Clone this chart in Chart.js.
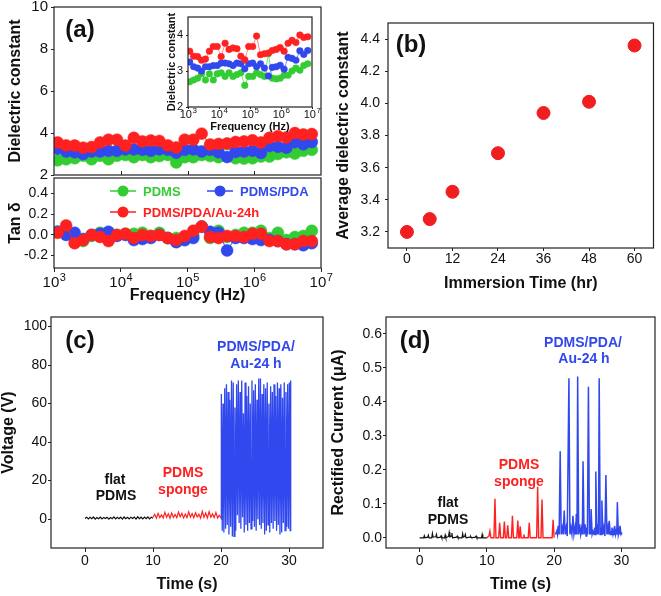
<!DOCTYPE html>
<html>
<head>
<meta charset="utf-8">
<script src="https://cdn.jsdelivr.net/npm/chart.js@4.4.1/dist/chart.umd.min.js"></script>
<style>
  html, body { margin: 0; padding: 0; background: #fff; }
  #fig { position: relative; width: 661px; height: 596px; background: #fff; }
  #fig canvas { position: absolute; left: 0; top: 0; }
</style>
</head>
<body>
<div id="fig">
  <canvas id="aTop" width="661" height="596"></canvas>
  <canvas id="aInset" width="661" height="596"></canvas>
  <canvas id="aTan" width="661" height="596"></canvas>
  <canvas id="bAvg" width="661" height="596"></canvas>
  <canvas id="cVolt" width="661" height="596"></canvas>
  <canvas id="dCurr" width="661" height="596"></canvas>
</div>
<script>
/* ---- Data: (a) dielectric spectra ---- */
const freq = [1.135e3, 1.52e3, 2.04e3, 2.73e3, 3.66e3, 4.9e3, 6.55e3, 8.77e3, 1.175e4, 1.57e4,
  2.11e4, 2.82e4, 3.79e4, 5.07e4, 6.79e4, 9.08e4, 1.22e5, 1.63e5, 2.18e5, 2.92e5,
  3.92e5, 5.25e5, 7.03e5, 9.41e5, 1.26e6, 1.69e6, 2.26e6, 3.03e6, 4.06e6, 5.43e6, 7.28e6];
const epsPDMS = [2.70, 2.75, 2.80, 2.92, 2.75, 2.92, 2.75, 2.92, 2.95, 2.85,
  2.95, 2.85, 2.90, 2.95, 2.60, 2.85, 2.85, 2.95, 2.90, 2.85,
  3.48, 2.80, 2.78, 2.80, 2.88, 2.88, 3.00, 3.08, 3.02, 3.15, 3.20];
const epsPDA = [3.25, 3.12, 3.08, 3.00, 3.12, 3.12, 3.15, 3.15, 3.22, 3.22,
  3.20, 3.15, 3.22, 3.20, 3.06, 3.20, 3.22, 3.12, 3.20, 3.08,
  2.86, 3.10, 3.12, 3.16, 3.05, 3.38, 3.35, 3.30, 3.56, 3.46, 3.57];
const epsAu = [3.55, 3.41, 3.40, 3.30, 3.33, 3.55, 3.68, 3.68, 3.40, 3.77,
  3.60, 3.64, 3.62, 3.41, 3.31, 3.68, 3.68, 3.97, 3.45, 3.48,
  3.50, 3.57, 3.60, 3.65, 3.55, 3.77, 3.85, 3.79, 4.00, 3.93, 3.95];
const tanPDMS = [0.03, 0.04, -0.03, -0.06, -0.01, 0.02, -0.05, 0.0, 0.01, 0.01,
  0.02, -0.01, 0.02, -0.03, -0.03, -0.05, 0.0, 0.08, -0.03, 0.04,
  -0.02, 0.0, 0.02, 0.02, 0.04, -0.03, 0.02, -0.05, -0.02, -0.01, 0.04];
const tanPDA = [0.03, 0.0, 0.02, -0.04, 0.0, 0.01, 0.03, -0.01, 0.0, -0.05,
  -0.04, -0.03, 0.0, -0.03, -0.07, -0.05, -0.03, 0.08, 0.03, 0.02,
  -0.15, -0.03, -0.03, -0.04, -0.05, -0.05, -0.06, -0.09, -0.09, -0.1, -0.08];
const tanAu = [0.02, 0.09, -0.08, -0.05, 0.0, -0.02, -0.06, 0.0, 0.01, -0.03,
  0.0, -0.01, 0.0, -0.03, -0.05, -0.01, 0.04, 0.08, -0.02, -0.03,
  -0.01, -0.01, -0.02, 0.01, 0.01, -0.06, -0.06, -0.09, -0.09, -0.06, -0.06];
const freqTicks = [1e3, 1e4, 1e5, 1e6, 1e7];
const freqExp = ['3', '4', '5', '6', '7'];
const epsTicks = [2, 4, 6, 8, 10];
const insetTicks = [2, 3, 4];
const tanTicks = [-0.2, 0, 0.2, 0.4];

/* ---- Data: (b) average dielectric constant ---- */
const immersionHr = [0, 6, 12, 24, 36, 48, 60];
const avgEps = [3.2, 3.28, 3.45, 3.69, 3.94, 4.01, 4.36];
const hrTicks = [0, 12, 24, 36, 48, 60];
const avgTicks = [3.2, 3.4, 3.6, 3.8, 4.0, 4.2, 4.4];

/* ---- Data: (c) output voltage ---- */
const flatT = [0, 0.25, 0.5, 0.75, 1, 1.25, 1.5, 1.75, 2, 2.25, 2.5, 2.75, 3, 3.25, 3.5, 3.75, 4, 4.25, 4.5, 4.75,
  5, 5.25, 5.5, 5.75, 6, 6.25, 6.5, 6.75, 7, 7.25, 7.5, 7.75, 8, 8.25, 8.5, 8.75, 9, 9.25, 9.5, 9.75, 10];
const flatV = [0.3, 1.0, 0.1, 0.9, 0.2, 1.1, 0, 0.8, 0.2, 1.0, 0.1, 0.9, 0.3, 1.0, 0, 0.8, 0.2, 1.2, 0.1, 0.9,
  0.2, 1.0, 0, 1.1, 0.2, 0.9, 0.1, 1.0, 0.3, 1.1, 0, 1.2, 0.2, 1.0, 0.1, 1.1, 0.2, 1.2, 0.1, 1.0, 0.5];
const spongeT = [10, 10.25, 10.5, 10.75, 11, 11.25, 11.5, 11.75, 12, 12.25, 12.5, 12.75, 13, 13.25, 13.5, 13.75,
  14, 14.25, 14.5, 14.75, 15, 15.25, 15.5, 15.75, 16, 16.25, 16.5, 16.75, 17, 17.25, 17.5, 17.75,
  18, 18.25, 18.5, 18.75, 19, 19.25, 19.5, 19.75, 20];
const spongeV = [1.0, 2.5, 0.5, 3.0, 0.8, 2.2, 0.6, 3.5, 1.0, 2.8, 0.5, 3.2, 0.9, 2.4, 0.7, 3.6, 1.2, 3.0, 0.6, 2.6,
  0.8, 3.8, 1.0, 2.9, 0.7, 3.3, 1.1, 2.5, 0.5, 4.0, 0.9, 3.2, 0.6, 3.9, 1.0, 2.7, 0.8, 3.5, 0.6, 2.0, 0.8];
const auT = [20.0, 20.05, 20.18, 20.3, 20.42, 20.55, 20.67, 20.8, 20.92, 21.05, 21.17, 21.3, 21.42, 21.55, 21.67,
  21.8, 21.92, 22.05, 22.17, 22.3, 22.42, 22.55, 22.67, 22.8, 22.92, 23.05, 23.17, 23.3, 23.42, 23.55,
  23.67, 23.8, 23.92, 24.05, 24.17, 24.3, 24.42, 24.55, 24.67, 24.8, 24.92, 25.05, 25.17, 25.3, 25.42,
  25.55, 25.67, 25.8, 25.92, 26.05, 26.17, 26.3, 26.42, 26.55, 26.67, 26.8, 26.92, 27.05, 27.17, 27.3,
  27.42, 27.55, 27.67, 27.8, 27.92, 28.05, 28.17, 28.3, 28.42, 28.55, 28.67, 28.8, 28.92, 29.05, 29.17,
  29.3, 29.42, 29.55, 29.67, 29.8, 29.92, 30.05, 30.17, 30.25];
const auV = [0, 65, -6, 60, -7, 68, -5, 70, -3, 66, -8, 62, -4, 72, -9, 71, -9, 58, -6, 70,
  2, 72, -2, 66, -5, 72, 1, 55, -7, 71, -3, 64, -6, 69, -2, 60, -5, 72, -1, 67,
  -4, 70, -6, 62, 0, 73, -3, 73, -5, 65, -2, 70, -8, 68, -6, 71, -3, 60, -7, 69,
  -2, 66, -5, 70, -1, 64, -6, 71, -3, 68, -8, 70, -7, 63, -2, 71, -6, 66, -4, 70,
  -5, 71, -6, 72];
const timeTicks = [0, 10, 20, 30];
const voltTicks = [0, 20, 40, 60, 80, 100];

/* ---- Data: (d) rectified current ---- */
const flatDT = [0, 0.6, 0.7, 0.8, 1.2, 1.3, 1.4, 1.8, 1.9, 2.0, 2.4, 2.5, 2.6, 3.1, 3.2, 3.3, 3.7, 3.8, 3.9,
  4.3, 4.4, 4.5, 4.7, 4.8, 4.9, 5.5, 5.6, 5.7, 6.3, 6.4, 6.5, 6.7, 6.8, 6.9, 7.5, 7.6, 7.7,
  8.3, 8.4, 8.5, 9.2, 9.3, 9.4, 10.0];
const flatDI = [0, 0, 0.006, 0, 0.002, 0.008, 0, 0, 0.013, 0.002, 0.003, 0.01, 0, 0.002, 0.006, 0, 0, 0.008, 0,
  0.004, 0.016, 0.003, 0.005, 0.014, 0, 0.002, 0.005, 0, 0, 0.012, 0.002, 0.004, 0.01, 0, 0.002, 0.004, 0,
  0.002, 0.005, 0, 0, 0.01, 0, 0];
const spongeDT = [10.0, 10.3, 10.45, 10.6, 11.05, 11.2, 11.35, 11.75, 11.9, 12.05, 12.45, 12.6, 12.75,
  12.95, 13.1, 13.25, 13.65, 13.8, 13.95, 14.45, 14.6, 14.75, 14.85, 14.95, 15.1, 15.4, 15.5, 15.6,
  16.15, 16.3, 16.45, 17.4, 17.55, 17.7, 18.05, 18.2, 18.35, 19.7, 19.85, 20.0];
const spongeDI = [0, 0.005, 0.02, 0, 0, 0.115, 0, 0, 0.044, 0, 0, 0.048, 0,
  0, 0.037, 0, 0, 0.065, 0, 0, 0.051, 0, 0, 0.034, 0, 0, 0.01, 0,
  0, 0.044, 0, 0, 0.15, 0, 0, 0.113, 0, 0, 0.053, 0];
const auDT = [20.2, 20.4, 20.5, 20.6, 20.75, 20.9, 21.05, 21.2, 21.35, 21.5,
  21.65, 21.8, 21.95, 22.2, 22.35, 22.5, 22.65, 22.8, 22.95, 23.1,
  23.2, 23.3, 23.4, 23.5, 23.65, 23.8, 23.95, 24.1, 24.2, 24.3,
  24.45, 24.6, 24.75, 24.85, 24.95, 25.1, 25.25, 25.35, 25.42, 25.5,
  25.65, 25.8, 25.95, 26.05, 26.12, 26.2, 26.35, 26.5, 26.6, 26.7,
  26.85, 26.95, 27.02, 27.1, 27.25, 27.4, 27.55, 27.7, 27.85, 28.0,
  28.1, 28.2, 28.35, 28.45, 28.52, 28.6, 28.75, 28.85, 28.92, 29.0,
  29.15, 29.25, 29.32, 29.4, 29.55, 29.65, 29.72, 29.8, 29.95, 30.1];
const auDI = [0.01, 0.02, 0.01, 0.035, 0.01, 0.255, 0.01, 0.03, 0.01, 0.08,
  0.01, 0.03, 0.005, 0.47, 0.01, 0.03, 0.01, 0.065, 0.01, 0.03,
  0.01, 0.07, 0.01, 0.475, 0.01, 0.04, 0.01, 0.03, 0.01, 0.225,
  0.01, 0.04, 0.005, 0.03, 0.01, 0.445, 0.01, 0.03, 0.01, 0.085,
  0.01, 0.02, 0.01, 0.03, 0.01, 0.195, 0.01, 0.03, 0.01, 0.47,
  0.01, 0.03, 0.01, 0.11, 0.01, 0.03, 0.005, 0.185, 0.01, 0.03,
  0.01, 0.05, 0.01, 0.02, 0.01, 0.03, 0.01, 0.02, 0.01, 0.035,
  0.01, 0.02, 0.01, 0.105, 0.01, 0.02, 0.01, 0.035, 0.01, 0.015];
const currTicks = [0, 0.1, 0.2, 0.3, 0.4, 0.5, 0.6];

/* ---- Style ---- */
const FONT = "'Liberation Sans', Arial, Helvetica, sans-serif";
const W = 661, H = 596;
const GREEN = '#33cc33', BLUE = '#3048ee', RED = '#ff2020', INK = '#111';

Chart.defaults.font.family = FONT;
Chart.defaults.color = INK;
Chart.defaults.animation = false;

/* Frame box, inner ticks, power-of-ten labels, free texts and legend */
const framePlugin = {
  id: 'frame',
  afterDraw(chart, args, opts) {
    const { ctx, chartArea: a } = chart;
    ctx.save();
    ctx.strokeStyle = '#222';
    ctx.lineWidth = 1.2;
    ctx.strokeRect(a.left, a.top, a.right - a.left, a.bottom - a.top);
    if (opts.innerX) {
      const s = chart.scales.x;
      ctx.lineWidth = 1;
      opts.innerX.forEach(v => {
        const px = Math.round(s.getPixelForValue(v)) + 0.5;
        ctx.beginPath();
        ctx.moveTo(px, a.bottom);
        ctx.lineTo(px, a.bottom - 4);
        ctx.stroke();
      });
    }
    if (opts.pow) {
      // "10" with a raised exponent under each log tick
      const p = opts.pow, s = chart.scales.x;
      const big = `${p.size}px ${FONT}`, small = `${Math.round(p.size * 0.72)}px ${FONT}`;
      ctx.fillStyle = INK;
      ctx.textAlign = 'left';
      ctx.textBaseline = 'middle';
      p.values.forEach((v, i) => {
        ctx.font = big;
        const w1 = ctx.measureText('10').width;
        ctx.font = small;
        const w2 = ctx.measureText(p.exps[i]).width;
        const x0 = s.getPixelForValue(v) - (w1 + w2) / 2;
        const y = a.bottom + p.dy;
        ctx.font = big;
        ctx.fillText('10', x0, y);
        ctx.font = small;
        ctx.fillText(p.exps[i], x0 + w1 + 0.5, y - p.size * 0.36);
      });
    }
    (opts.legend || []).forEach(e => {
      ctx.strokeStyle = e.color;
      ctx.lineWidth = 1.5;
      ctx.beginPath();
      ctx.moveTo(e.x - 13, e.y);
      ctx.lineTo(e.x + 13, e.y);
      ctx.stroke();
      ctx.fillStyle = e.color;
      ctx.beginPath();
      ctx.arc(e.x, e.y, 5.5, 0, Math.PI * 2);
      ctx.fill();
      ctx.font = `bold 13px ${FONT}`;
      ctx.textAlign = 'left';
      ctx.textBaseline = 'middle';
      ctx.fillText(e.text, e.x + 20, e.y + 1);
    });
    (opts.texts || []).forEach(t => {
      ctx.font = `bold ${t.size || 14}px ${FONT}`;
      ctx.fillStyle = t.color || INK;
      ctx.textAlign = 'center';
      ctx.textBaseline = 'middle';
      ctx.fillText(t.text, t.x, t.y);
    });
    ctx.restore();
  }
};
Chart.register(framePlugin);

/* ---- Helpers ---- */
function makeAxis(o) {
  const horizontal = !!o.horizontal;
  return {
    type: o.type || 'linear',
    min: o.min,
    max: o.max,
    afterBuildTicks: s => { s.ticks = o.ticks.map(v => ({ value: v })); },
    afterFit: s => {
      if (horizontal) s.height = o.size; else s.width = o.size;
      s.paddingTop = s.paddingBottom = s.paddingLeft = s.paddingRight = 0;
    },
    grid: {
      display: !o.noMarks,
      drawOnChartArea: false,
      drawTicks: true,
      tickLength: o.tickLen ?? 3,
      color: '#222',
      lineWidth: 1,
    },
    border: { display: false },
    ticks: {
      display: !o.noLabels,
      autoSkip: false,
      maxRotation: 0,
      padding: o.pad ?? 2,
      font: { size: o.tickSize || 14 },
      color: INK,
      callback: v => (o.fmt ? o.fmt(v) : String(v)),
    },
    title: o.title
      ? { display: true, text: o.title, padding: 0, color: INK, font: { size: o.titleSize || 16, weight: 'bold' } }
      : { display: false },
  };
}

function makeChart(id, rect, yW, xH, type, datasets, scales, frame) {
  return new Chart(document.getElementById(id), {
    type,
    data: { datasets },
    options: {
      responsive: false,
      animation: false,
      layout: { padding: { left: rect.l - yW, top: rect.t, right: W - rect.r, bottom: H - rect.b - xH } },
      plugins: { legend: { display: false }, tooltip: { enabled: false }, frame },
      scales,
    },
  });
}

const pts = (xs, ys) => xs.map((x, i) => ({ x, y: ys[i] }));

function markerSet(label, xs, ys, color, lineColor, r) {
  return {
    label,
    data: pts(xs, ys),
    borderColor: lineColor,
    backgroundColor: color,
    pointBackgroundColor: color,
    pointBorderColor: color,
    pointBorderWidth: 0.5,
    pointRadius: r,
    borderWidth: 1,
    showLine: true,
    tension: 0,
  };
}

function traceSet(label, xs, ys, color, width) {
  return {
    label,
    data: pts(xs, ys),
    borderColor: color,
    borderWidth: width,
    pointRadius: 0,
    tension: 0,
  };
}

/* ---- (a) main dielectric constant ---- */
makeChart('aTop', { l: 54, t: 7, r: 321, b: 175 }, 48, 0, 'line', [
  markerSet('PDMS/PDA/Au-24h', freq, epsAu, RED, RED, 6),
  markerSet('PDMS/PDA', freq, epsPDA, BLUE, BLUE, 6),
  markerSet('PDMS', freq, epsPDMS, GREEN, GREEN, 6),
], {
  x: makeAxis({ type: 'logarithmic', min: 1e3, max: 1e7, ticks: freqTicks, horizontal: true, size: 0, noMarks: true, noLabels: true }),
  y: makeAxis({ min: 2, max: 10, ticks: epsTicks, size: 48, tickLen: 3, pad: 3, tickSize: 15, title: 'Dielectric constant' }),
}, { innerX: [1e4, 1e5, 1e6], texts: [{ text: '(a)', x: 80, y: 30, size: 24 }] });

/* ---- (a) inset ---- */
makeChart('aInset', { l: 188, t: 17, r: 312, b: 107 }, 23, 27, 'line', [
  markerSet('PDMS/PDA/Au-24h', freq, epsAu, RED, '#ff8a8a', 3.3),
  markerSet('PDMS/PDA', freq, epsPDA, BLUE, '#7d8cf5', 3.3),
  markerSet('PDMS', freq, epsPDMS, GREEN, '#7ee07e', 3.3),
], {
  x: makeAxis({ type: 'logarithmic', min: 1e3, max: 1e7, ticks: freqTicks, horizontal: true, size: 27,
    tickLen: 2, noLabels: true, title: 'Frequency (Hz)', titleSize: 11 }),
  y: makeAxis({ min: 2, max: 4.5, ticks: insetTicks, size: 23, tickLen: 2, pad: 3, tickSize: 11,
    title: 'Dielectric constant', titleSize: 11 }),
}, { pow: { values: freqTicks, exps: freqExp, size: 11, dy: 8 } });

/* ---- (a) loss tangent ---- */
makeChart('aTan', { l: 54, t: 178, r: 321, b: 268 }, 48, 37, 'line', [
  markerSet('PDMS/PDA/Au-24h', freq, tanAu, RED, RED, 6),
  markerSet('PDMS/PDA', freq, tanPDA, BLUE, BLUE, 6),
  markerSet('PDMS', freq, tanPDMS, GREEN, GREEN, 6),
], {
  x: makeAxis({ type: 'logarithmic', min: 1e3, max: 1e7, ticks: freqTicks, horizontal: true, size: 37,
    tickLen: 4, noLabels: true, title: 'Frequency (Hz)' }),
  y: makeAxis({ min: -0.32, max: 0.55, ticks: tanTicks, size: 48, tickLen: 3, pad: 3, tickSize: 14,
    fmt: v => v.toFixed(1), title: 'Tan δ' }),
}, {
  pow: { values: freqTicks, exps: freqExp, size: 15, dy: 15 },
  legend: [
    { text: 'PDMS', color: GREEN, x: 123, y: 191 },
    { text: 'PDMS/PDA', color: BLUE, x: 220, y: 191 },
    { text: 'PDMS/PDA/Au-24h', color: RED, x: 123, y: 212 },
  ],
});

/* ---- (b) average dielectric constant vs immersion time ---- */
makeChart('bAvg', { l: 388, t: 23, r: 655, b: 248 }, 54, 45, 'scatter', [{
  label: 'Average',
  data: pts(immersionHr, avgEps),
  pointBackgroundColor: '#f01e1e',
  pointBorderColor: '#f01e1e',
  pointRadius: 6.5,
}], {
  x: makeAxis({ min: -5, max: 65, ticks: hrTicks, horizontal: true, size: 45, tickLen: 3, pad: 0, title: 'Immersion Time (hr)' }),
  y: makeAxis({ min: 3.1, max: 4.5, ticks: avgTicks, size: 54, tickLen: 3, pad: 5, fmt: v => v.toFixed(1),
    title: 'Average dielectric constant' }),
}, { texts: [{ text: '(b)', x: 411, y: 45, size: 24 }] });

/* ---- (c) voltage ---- */
makeChart('cVolt', { l: 51, t: 317, r: 323, b: 548 }, 52, 46, 'line', [
  traceSet('flat PDMS', flatT, flatV, INK, 1.2),
  traceSet('PDMS sponge', spongeT, spongeV, RED, 1.2),
  traceSet('PDMS/PDA/Au-24 h', auT, auV, BLUE, 1.3),
], {
  x: makeAxis({ min: -5, max: 35, ticks: timeTicks, horizontal: true, size: 46, tickLen: 4, pad: 1, title: 'Time (s)' }),
  y: makeAxis({ min: -15, max: 105, ticks: voltTicks, size: 52, tickLen: 3, pad: 1, title: 'Voltage (V)' }),
}, {
  texts: [
    { text: '(c)', x: 80, y: 341, size: 24 },
    { text: 'flat', x: 115, y: 480 },
    { text: 'PDMS', x: 116, y: 496 },
    { text: 'PDMS', x: 183, y: 473, color: RED },
    { text: 'sponge', x: 183, y: 490, color: RED },
    { text: 'PDMS/PDA/', x: 256, y: 347, color: BLUE },
    { text: 'Au-24 h', x: 256, y: 364, color: BLUE },
  ],
});

/* ---- (d) rectified current ---- */
makeChart('dCurr', { l: 386, t: 317, r: 655, b: 548 }, 57, 46, 'line', [
  traceSet('flat PDMS', flatDT, flatDI, INK, 1.2),
  traceSet('PDMS sponge', spongeDT, spongeDI, RED, 1.4),
  traceSet('PDMS/PDA/Au-24 h', auDT, auDI, BLUE, 1.5),
], {
  x: makeAxis({ min: -5, max: 35, ticks: timeTicks, horizontal: true, size: 46, tickLen: 4, pad: 1, title: 'Time (s)' }),
  y: makeAxis({ min: -0.03, max: 0.65, ticks: currTicks, size: 57, tickLen: 3, pad: 1, fmt: v => v.toFixed(1),
    title: 'Rectified Current (μA)' }),
}, {
  texts: [
    { text: '(d)', x: 415, y: 341, size: 24 },
    { text: 'flat', x: 448, y: 503 },
    { text: 'PDMS', x: 448, y: 520 },
    { text: 'PDMS', x: 519, y: 465, color: RED },
    { text: 'sponge', x: 519, y: 482, color: RED },
    { text: 'PDMS/PDA/', x: 583, y: 343, color: BLUE },
    { text: 'Au-24 h', x: 584, y: 359, color: BLUE },
  ],
});
</script>
</body>
</html>
